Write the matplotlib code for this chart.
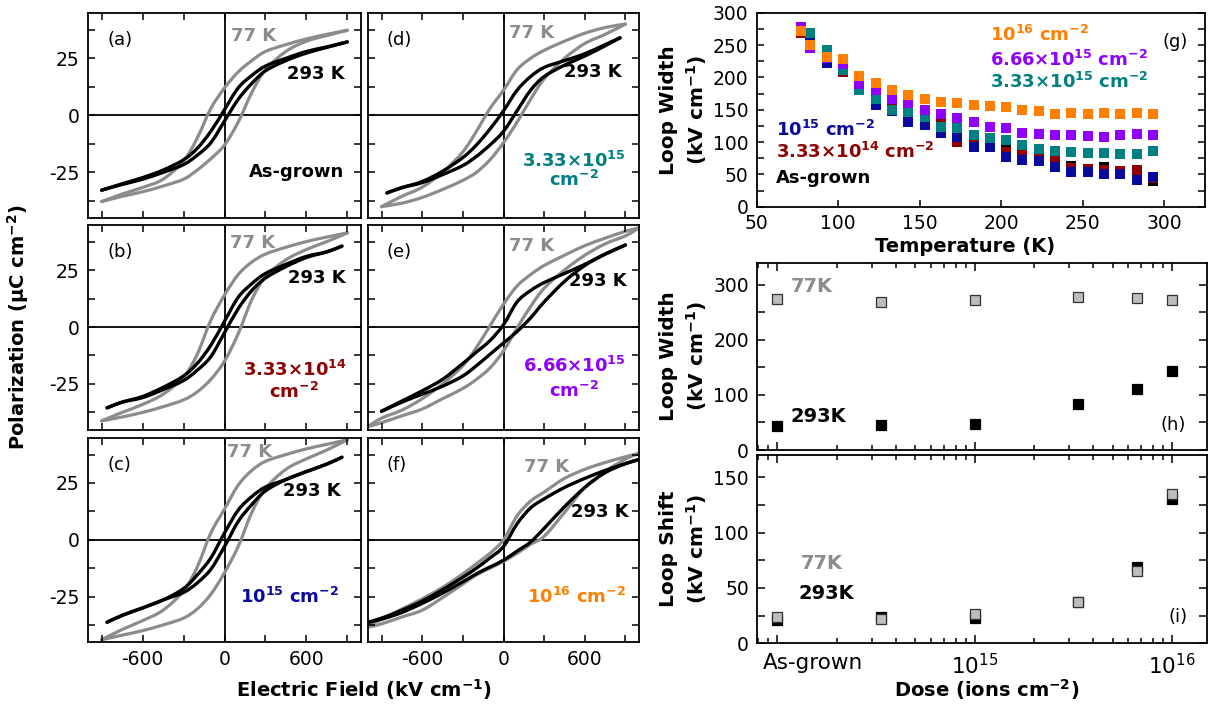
import matplotlib.pyplot as plt
import numpy as np
from matplotlib.path import Path
from matplotlib.patches import PathPatch
from matplotlib.transforms import ScaledTranslation

plt.rcParams['font.family'] = ['DejaVu Sans']
plt.rcParams['axes.unicode_minus'] = False
plt.rcParams['mathtext.fontset'] = 'dejavusans'

# ---------------- hysteresis loops (a)-(f) ----------------
# field grids (kV/cm): standard, wide (runs to the frame edge), narrow
E = [-900, -750, -600, -450, -300, -200, -100, 0, 100, 200, 300, 450, 600, 750, 900]
EW = [-1000, -900, -750, -600, -450, -300, -200, -100, 0, 100, 200, 300, 450, 600, 750, 900, 1000]
EN = [-860, -750, -600, -450, -300, -200, -100, 0, 100, 200, 300, 450, 600, 750, 860]

# 'up' = branch coming down from +E, 'dn' = branch going up from -E
a77_up = [-37.8, -34.5, -31.6, -28, -20, -10, 3, 12, 19, 24, 28, 31, 33.5, 35.5, 37.3]
a77_dn = [-37.8, -35.5, -33.5, -31, -28, -24, -19, -13, -3, 10, 20, 28, 32.5, 35, 37.3]
a293_up = [-32.8, -30, -27.3, -24, -19.5, -14.5, -7, 2.5, 12, 17.5, 21.6, 25, 28, 30, 32.2]
a293_dn = [-32.8, -30.3, -28, -25, -21.6, -17.5, -12, -2.5, 7, 14, 19.5, 24, 27.3, 29.8, 32.2]

b77_up = [-41.2, -37.5, -34, -29.5, -22, -12, 3, 14, 23, 28.5, 32, 35, 37.5, 39.5, 41.3]
b77_dn = [-41.2, -39.5, -37.5, -35, -32, -28.5, -23, -15, -3, 12, 22, 29.5, 34, 37.5, 41.3]
b293_up = [-35.5, -33, -30.5, -26.5, -21.5, -16, -8, 2.5, 13, 19, 23.5, 27.5, 31, 33, 35.5]
b293_dn = [-35.5, -33, -31, -27.5, -23.5, -19, -13, -2.5, 8, 16, 21.5, 26.5, 30.5, 33, 35.5]

c77_up = [-44, -39.5, -35.6, -31, -22.5, -12, 3, 13.5, 24, 30.5, 34.5, 37.5, 40, 42, 44]
c77_dn = [-44, -42, -40, -37.5, -34.5, -30.5, -24, -14.5, -3, 12, 22.5, 31, 35.6, 39.5, 44]
c293_up = [-36.3, -33.3, -30, -26.5, -21.5, -15.5, -8, 3, 13, 19, 23.2, 26.5, 30, 33.3, 36.3]
c293_dn = [-36.3, -33.3, -30, -26.5, -23.2, -19, -13, -3, 8, 15.5, 21.5, 26.5, 30, 33.3, 36.3]

d77_up = [-40, -35.5, -31.5, -25, -16, -7, 3, 11, 20, 25, 28.5, 32.5, 36, 38.5, 40]
d77_dn = [-40, -38.5, -36, -32.5, -28.5, -25, -19.5, -12, -3, 7, 16, 25, 31.5, 35.5, 40]
d293_up = [-34, -31.7, -29, -24.5, -18.5, -13, -6, 2, 11, 17, 21, 24, 27, 31, 34]
d293_dn = [-34, -31.7, -29.5, -26, -22, -18, -13, -7, 2, 11, 17, 22, 26, 30.5, 34]

e77_up = [-43.7, -40, -36.5, -31.5, -25, -17, -9, 0.5, 10, 18, 23, 27, 31.5, 35.7, 39, 42, 43.5]
e77_dn = [-43.7, -42, -39, -36, -31.5, -27, -23, -18, -10.5, -0.5, 9, 17, 25, 31.5, 36.5, 40, 43.5]
e293_up = [-37, -32.5, -28, -23, -16, -11, -6, 1, 11, 16, 19.5, 23.5, 27.5, 32, 36]
e293_dn = [-37, -33, -29.5, -26, -21.5, -17, -12, -7, -2, 4, 11, 20, 27, 32, 36]

f77_up = [-37.5, -35, -30.5, -26, -21, -15, -10.5, -6, 0, 10.5, 17, 21, 27, 31, 34, 36.5, 38]
f77_dn = [-38.5, -37, -34, -31, -25.5, -19.5, -15.5, -12.5, -9.5, -6, -2, 1.5, 12, 23, 30, 35.5, 38]
f293_up = [-36.3, -34.5, -31, -27, -22, -16.5, -12.5, -8, -3, 7, 14, 18, 23, 27, 30.5, 33.5, 35.3]
f293_dn = [-36.3, -35, -32, -28, -23.5, -18.5, -15, -12, -9, -5, -1, 5, 14.5, 23, 29.5, 33.5, 35.3]

# ---------------- (g) loop width vs temperature ----------------
temps = [77, 83, 93, 103, 113, 123, 133, 143, 153, 163, 173, 183, 193, 203, 213, 223,
         233, 243, 253, 263, 273, 283, 293]
w_asgrown = [270, 255, 225, 212, 195, 165, 155, 138, 136, 135, 105, 98, 94, 90, 85, 80,
             70, 63, 57, 61, 53, 51, 40]
w_333e14 = [268, 252, 226, 209, 192, 163, 152, 136, 133, 132, 100, 100, 93, 85, 82, 77,
            72, 60, 59, 57, 55, 56, 44]
w_1e15 = [278, 258, 222, 213, 190, 158, 148, 131, 126, 114, 108, 93, 93, 77, 72, 70,
          61, 53, 53, 50, 50, 42, 46]
w_333e15 = [275, 268, 242, 212, 180, 167, 150, 146, 138, 124, 121, 111, 107, 103, 95, 90,
            86, 85, 83, 83, 82, 82, 86]
w_666e15 = [278, 245, 230, 220, 190, 180, 166, 160, 149, 144, 137, 131, 124, 121, 114, 112,
            111, 111, 110, 108, 111, 112, 111]
w_1e16 = [272, 250, 232, 228, 202, 192, 180, 172, 167, 162, 160, 157, 155, 154, 150, 148,
          144, 145, 143, 145, 144, 145, 144]

# ---------------- (h), (i) vs dose ----------------
doses = [1e14, 3.33e14, 1e15, 3.33e15, 6.66e15, 1e16]  # as-grown drawn at 1e14
width_77 = [275, 268, 273, 277, 276, 273]
width_293 = [43, 45, 47, 84, 110, 144]
shift_77 = [24, 21.5, 26.5, 37, 65, 135]
shift_293 = [21, 23.5, 23, 37, 69, 130.5]

C_GRAY = '#8c8c8c'
C_RED = '#8f0000'
C_BLUE = '#0a0a9c'
C_TEAL = '#008080'
C_PURPLE = '#8f00ff'
C_ORANGE = '#ff8000'
FS = 13.5

W, H = 1210, 706
fig = plt.figure(figsize=(12.1, 7.06), dpi=100)


def rect(l, t, r, b):
    return [l / W, 1 - b / H, (r - l) / W, (b - t) / H]


def smooth_line(ax, x, y, color, lw):
    # smooth curve through the read points (Catmull-Rom as cubic Bezier)
    pts = np.column_stack([x, y]).astype(float)
    n = len(pts)
    verts = [pts[0]]
    codes = [Path.MOVETO]
    for i in range(n - 1):
        p0 = pts[max(i - 1, 0)]
        p1 = pts[i]
        p2 = pts[i + 1]
        p3 = pts[min(i + 2, n - 1)]
        verts += [p1 + (p2 - p0) / 6, p2 - (p3 - p1) / 6, p2]
        codes += [Path.CURVE4] * 3
    ax.add_patch(PathPatch(Path(verts, codes), facecolor='none', edgecolor=color,
                           lw=lw, capstyle='round', joinstyle='round'))


cols = [(88, 361), (368, 639)]
rows = [(12.7, 218), (224.5, 429.5), (437.5, 642)]

panels = [
    ('(a)', 0, 0, E, a77_up, a77_dn, E, a293_up, a293_dn),
    ('(b)', 0, 1, E, b77_up, b77_dn, EN, b293_up, b293_dn),
    ('(c)', 0, 2, E, c77_up, c77_dn, EN, c293_up, c293_dn),
    ('(d)', 1, 0, E, d77_up, d77_dn, EN, d293_up, d293_dn),
    ('(e)', 1, 1, EW, e77_up, e77_dn, E, e293_up, e293_dn),
    ('(f)', 1, 2, EW, f77_up, f77_dn, EW, f293_up, f293_dn),
]

# label positions: 77 K (x, y), 293 K (x, y)
pos77 = {'(a)': (49, 34.7), '(b)': (37, 36.8), '(c)': (20, 38.7),
         '(d)': (44, 36), '(e)': (44, 35.4), '(f)': (154, 32)}
pos293 = {'(a)': (878, 18), '(b)': (890, 21.3), '(c)': (854, 21.6),
          '(d)': (872, 19), '(e)': (910, 20.3), '(f)': (924, 12.2)}

hyst_axes = {}
for name, ci, ri, e77, u77, d77, e293, u293, d293 in panels:
    l, r = cols[ci]
    t, b = rows[ri]
    ax = fig.add_axes(rect(l, t, r, b))
    hyst_axes[name] = ax
    ax.axhline(0, color='k', lw=1.3, zorder=1)
    ax.axvline(0, color='k', lw=1.3, zorder=1)
    smooth_line(ax, e77, u77, C_GRAY, 2.3)
    smooth_line(ax, e77, d77, C_GRAY, 2.3)
    smooth_line(ax, e293, u293, 'k', 2.4)
    smooth_line(ax, e293, d293, 'k', 2.4)
    ax.set_xlim(-1000, 1000)
    ax.set_ylim(-45, 45)
    ax.set_xticks([-900, -600, -300, 0, 300, 600, 900])
    ax.set_yticks([-37.5, -25, -12.5, 0, 12.5, 25, 37.5])
    if ri == 2:
        ax.set_xticklabels(['', '-600', '', '0', '', '600', ''])
    else:
        ax.set_xticklabels([])
    if ci == 0:
        ax.set_yticklabels(['', '-25', '', '0', '', '25', ''])
    else:
        ax.set_yticklabels([])
    ax.tick_params(direction='in', top=True, right=True, length=5, width=1.1,
                   labelsize=FS, pad=6)
    for s in ax.spines.values():
        s.set_linewidth(1.3)
    ax.text(-860, 33, name, fontsize=13, ha='left', va='center')
    ax.text(*pos77[name], '77 K', color=C_GRAY, fontsize=13, fontweight='bold',
            ha='left', va='center')
    ax.text(*pos293[name], '293 K', color='k', fontsize=13, fontweight='bold',
            ha='right', va='center')

hyst_axes['(a)'].text(878, -25, 'As-grown', fontsize=13, fontweight='bold',
                      ha='right', va='center')
hyst_axes['(b)'].text(512, -19, r'$\mathbf{3.33{\times}10^{14}}$', color=C_RED,
                      fontsize=13, ha='center', va='center')
hyst_axes['(b)'].text(512, -28.7, r'$\mathbf{cm^{-2}}$', color=C_RED,
                      fontsize=13, ha='center', va='center')
hyst_axes['(c)'].text(841, -25.3, r'$\mathbf{10^{15}\ cm^{-2}}$', color=C_BLUE,
                      fontsize=13, ha='right', va='center')
hyst_axes['(d)'].text(520, -19.9, r'$\mathbf{3.33{\times}10^{15}}$', color=C_TEAL,
                      fontsize=13, ha='center', va='center')
hyst_axes['(d)'].text(520, -28.3, r'$\mathbf{cm^{-2}}$', color=C_TEAL,
                      fontsize=13, ha='center', va='center')
hyst_axes['(e)'].text(520, -17.2, r'$\mathbf{6.66{\times}10^{15}}$', color=C_PURPLE,
                      fontsize=13, ha='center', va='center')
hyst_axes['(e)'].text(520, -28.2, r'$\mathbf{cm^{-2}}$', color=C_PURPLE,
                      fontsize=13, ha='center', va='center')
hyst_axes['(f)'].text(541, -25.3, r'$\mathbf{10^{16}\ cm^{-2}}$', color=C_ORANGE,
                      fontsize=13, ha='center', va='center')

fig.text(18 / W, 1 - 327 / H, r'Polarization ($\mathbf{\mu}$C cm$^{\mathbf{-2}}$)',
         rotation=90, fontsize=14, fontweight='bold', ha='center', va='center')
fig.text(364 / W, 1 - 690 / H, r'Electric Field (kV cm$^{\mathbf{-1}}$)',
         fontsize=14, fontweight='bold', ha='center', va='center')

# ---------------- (g) ----------------
axg = fig.add_axes(rect(756.7, 12.7, 1205, 206.7))
series = [(w_asgrown, 'k'), (w_333e14, C_RED), (w_1e15, C_BLUE),
          (w_333e15, C_TEAL), (w_666e15, C_PURPLE), (w_1e16, C_ORANGE)]
for vals, col in series:
    axg.plot(temps, vals, 's', color=col, ms=7.5, mew=0, linestyle='none')
axg.set_xlim(50, 325)
axg.set_ylim(0, 300)
axg.set_xticks([50, 100, 150, 200, 250, 300])
axg.set_yticks(range(0, 301, 50))
axg.set_yticks(range(25, 300, 50), minor=True)
axg.tick_params(which='both', direction='in', left=True, right=True, length=5,
                width=1.1, labelsize=FS, pad=6)
axg.tick_params(axis='x', pad=5)
for s in axg.spines.values():
    s.set_linewidth(1.3)
axg.text(306.6, 254.7, '(g)', fontsize=13, ha='center', va='center')
axg.text(61.8, 118.6, r'$\mathbf{10^{15}\ cm^{-2}}$', color=C_BLUE, fontsize=13,
         ha='left', va='center')
axg.text(61.8, 84.6, r'$\mathbf{3.33{\times}10^{14}\ cm^{-2}}$', color=C_RED, fontsize=13,
         ha='left', va='center')
axg.text(61.8, 44.4, 'As-grown', color='k', fontsize=13, fontweight='bold',
         ha='left', va='center')
axg.text(193.3, 265.5, r'$\mathbf{10^{16}\ cm^{-2}}$', color=C_ORANGE, fontsize=13,
         ha='left', va='center')
axg.text(193.3, 226.8, r'$\mathbf{6.66{\times}10^{15}\ cm^{-2}}$', color=C_PURPLE, fontsize=13,
         ha='left', va='center')
axg.text(193.3, 192.8, r'$\mathbf{3.33{\times}10^{15}\ cm^{-2}}$', color=C_TEAL, fontsize=13,
         ha='left', va='center')
fig.text(965 / W, 1 - 246 / H, 'Temperature (K)', fontsize=14, fontweight='bold',
         ha='center', va='center')

# ---------------- (h), (i) ----------------
axh = fig.add_axes(rect(757.3, 262.7, 1206.7, 450))
axi = fig.add_axes(rect(757.3, 455, 1206.7, 643.3))

axh.plot(doses, width_77, 's', color='#bdbdbd', mec='#303030', mew=0.9, ms=7)
axh.plot(doses, width_293, 's', color='k', mec='k', mew=0.9, ms=7)
axi.plot(doses, shift_293, 's', color='k', mec='k', mew=0.9, ms=7)
axi.plot(doses, shift_77, 's', color='#bdbdbd', mec='#303030', mew=0.9, ms=7)

for ax in (axh, axi):
    ax.set_xscale('log')
    ax.set_xlim(7.9e13, 1.5e16)
    ax.set_xticks([1e14, 1e15, 1e16])
    ax.tick_params(which='both', direction='in', top=True, right=True, width=1.1,
                   labelsize=FS, pad=6)
    ax.tick_params(which='major', length=6)
    ax.tick_params(which='minor', length=3.5)
    for s in ax.spines.values():
        s.set_linewidth(1.3)

axh.set_xticklabels([])
axi.set_xticklabels(['As-grown', r'$10^{15}$', r'$10^{16}$'])
axi.tick_params(axis='x', labelsize=15.5, pad=7)
# the as-grown label starts just left of its tick, as in the original
lab0 = axi.get_xticklabels()[0]
lab0.set_horizontalalignment('left')
lab0.set_transform(lab0.get_transform() + ScaledTranslation(-15 / 100, 0, fig.dpi_scale_trans))
axh.set_ylim(0, 340)
axh.set_yticks(range(0, 301, 50))
axh.set_yticklabels(['0', '', '100', '', '200', '', '300'])
axi.set_ylim(0, 170)
axi.set_yticks(range(0, 151, 25))
axi.set_yticklabels(['0', '', '50', '', '100', '', '150'])

axh.text(1.49e14, 296, '77K', color=C_GRAY, fontsize=14, fontweight='bold',
         ha='center', va='center')
axh.text(1.61e14, 61, '293K', color='k', fontsize=14, fontweight='bold',
         ha='center', va='center')
axh.text(1.02e16, 45, '(h)', fontsize=13, ha='center', va='center')
axi.text(1.68e14, 72, '77K', color=C_GRAY, fontsize=14, fontweight='bold',
         ha='center', va='center')
axi.text(1.77e14, 45, '293K', color='k', fontsize=14, fontweight='bold',
         ha='center', va='center')
axi.text(1.07e16, 24, '(i)', fontsize=13, ha='center', va='center')

for yc, txt in ((110, 'Loop Width'), (356, 'Loop Width'), (549, 'Loop Shift')):
    fig.text(684 / W, 1 - yc / H, txt + '\n' + r'(kV cm$^{\mathbf{-1}}$)', rotation=90,
             fontsize=14.5, fontweight='bold', ha='center', va='center', linespacing=1.35)
fig.text(987 / W, 1 - 690 / H, r'Dose (ions cm$^{\mathbf{-2}}$)', fontsize=14,
         fontweight='bold', ha='center', va='center')

fig.savefig('out.png', dpi=100)
